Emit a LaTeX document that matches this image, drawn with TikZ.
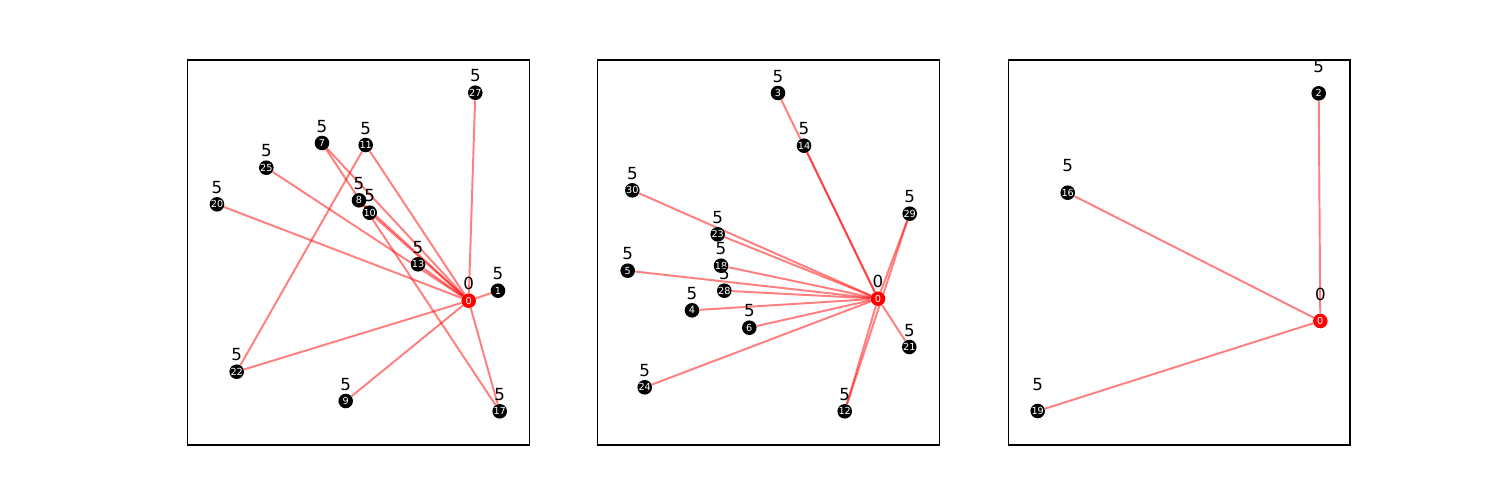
\documentclass[tikz,border=0pt]{standalone}
\usepackage{fontspec}
\setmainfont{DejaVu Sans}
\usetikzlibrary{backgrounds}

\begin{document}
\begin{tikzpicture}[x=0.72pt,y=-0.72pt,
  vtx/.style={shape=circle,fill=black,inner sep=0pt,minimum size=10.5pt,text=white,font=\fontsize{7}{8}\selectfont},
  hub/.style={vtx,fill=red},
  link/.style={draw=red,opacity=0.5,line width=1.4pt},
  every label/.style={inner sep=0pt,text=black,font=\fontsize{12}{14}\selectfont},
  frame/.style={draw=black,line width=0.8pt}]
\useasboundingbox (0,0) rectangle (1500,500);
\draw[frame] (187.5,60) rectangle (529.4,445);
\draw[frame] (597.8,60) rectangle (939.7,445);
\draw[frame] (1008.1,60) rectangle (1350,445);
\begin{scope}[label distance=1.9pt]
\node[hub,label=above:0] (a0) at (468.7,300.7) {0};
\node[vtx,label=above:5] (a1) at (498,290.7) {1};
\node[vtx,label=above:5] (a7) at (322,143) {7};
\node[vtx,label=above:5] (a8) at (359,200.3) {8};
\node[vtx,label=above:5] (a9) at (345.7,401) {9};
\node[vtx,label=above:5] (a10) at (369.7,212.7) {10};
\node[vtx,label=above:5] (a11) at (365.7,145) {11};
\node[vtx,label=above:5] (a13) at (418,264.3) {13};
\node[vtx,label=above:5] (a17) at (499.7,411.3) {17};
\node[vtx,label=above:5] (a20) at (217,204.3) {20};
\node[vtx,label=above:5] (a22) at (236.7,371.7) {22};
\node[vtx,label=above:5] (a25) at (266.3,167.7) {25};
\node[vtx,label=above:5] (a27) at (475.3,92.7) {27};
\node[hub,label=above:0] (b0) at (878,298.7) {0};
\node[vtx,label=above:5] (b3) at (778,93) {3};
\node[vtx,label=above:5] (b4) at (692,310.3) {4};
\node[vtx,label=above:5] (b5) at (627.7,270.7) {5};
\node[vtx,label=above:5] (b6) at (749.3,327.7) {6};
\node[vtx,label=above:5] (b12) at (844.7,411.3) {12};
\node[vtx,label=above:5] (b14) at (804,145.7) {14};
\node[vtx,label=above:5] (b18) at (721,265.7) {18};
\node[vtx,label=above:5] (b21) at (909.3,347) {21};
\node[vtx,label=above:5] (b23) at (717.7,234.3) {23};
\node[vtx,label=above:5] (b24) at (644.7,387.3) {24};
\node[vtx,label=above:5] (b28) at (724.3,290.7) {28};
\node[vtx,label=above:5] (b29) at (909.7,213.7) {29};
\node[vtx,label=above:5] (b30) at (632.3,190.3) {30};
\end{scope}
\begin{scope}[label distance=9.2pt]
\node[hub,label=above:0] (c0) at (1320.3,321) {0};
\node[vtx,label=above:5] (c2) at (1318.7,93.3) {2};
\node[vtx,label=above:5] (c16) at (1067.7,192.7) {16};
\node[vtx,label=above:5] (c19) at (1037.7,411) {19};
\end{scope}
\begin{pgfonlayer}{background}
\path [link] (a0) edge (a1);
\path [link] (a0) edge (a7);
\path [link] (a0) edge (a8);
\path [link] (a0) edge (a9);
\path [link] (a0) edge (a10);
\path [link] (a0) edge (a11);
\path [link] (a0) edge (a13);
\path [link] (a0) edge (a17);
\path [link] (a0) edge (a20);
\path [link] (a0) edge (a22);
\path [link] (a0) edge (a25);
\path [link] (a0) edge (a27);
\path [link] (a11) edge (a22);
\path [link] (a7) edge (a17);
\path [link] (b0) edge (b3);
\path [link] (b0) edge (b4);
\path [link] (b0) edge (b5);
\path [link] (b0) edge (b6);
\path [link] (b0) edge (b12);
\path [link] (b0) edge (b14);
\path [link] (b0) edge (b18);
\path [link] (b0) edge (b21);
\path [link] (b0) edge (b23);
\path [link] (b0) edge (b24);
\path [link] (b0) edge (b28);
\path [link] (b0) edge (b29);
\path [link] (b0) edge (b30);
\path [link] (b29) edge (b12);
\path [link] (c0) edge (c2);
\path [link] (c0) edge (c16);
\path [link] (c0) edge (c19);
\end{pgfonlayer}
\end{tikzpicture}
\end{document}
